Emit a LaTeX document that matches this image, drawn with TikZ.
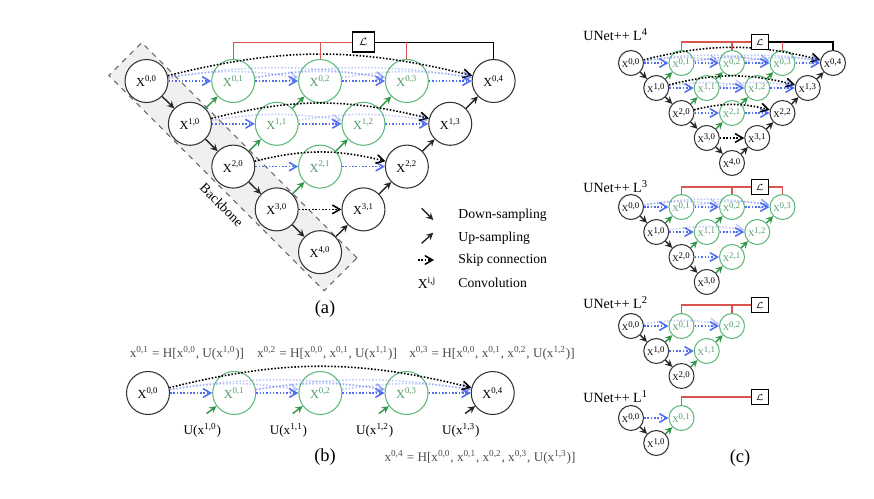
\documentclass[tikz,border=0pt]{standalone}
\usepackage{fontspec}
\setmainfont{Liberation Serif}
\usepackage{amsmath,amssymb}
\usepackage{xcolor}
\usepackage{tikz}
\usetikzlibrary{arrows, positioning}

\definecolor{netgreen}{HTML}{5DB97A}
\definecolor{upgreen}{HTML}{2E9646}
\definecolor{skipblue}{HTML}{4F6DF0}
\definecolor{lossred}{HTML}{D9534F}

\newcommand{\unetnet}[3]{%
  \foreach \i in {0,...,#2}
    \node[enc] (#1X\i0) at (\i,\i) {X\textsuperscript{\i,0}};
  \foreach \j in {1,...,#2} {
    \pgfmathtruncatemacro{\imax}{#2-\j}
    \foreach \i in {0,...,\imax} {
      \def\st{dec}
      \ifnum#3=1 \ifnum\i=\imax \def\st{orig}\fi\fi
      \node[\st] (#1X\i\j) at (\i+2*\j,\i) {X\textsuperscript{\i,\j}};
    }
  }
  \foreach \i [count=\h from 0] in {1,...,#2}
    \path (#1X\h0) edge[dsamp] (#1X\i0);
  \foreach \j [count=\jp from 0] in {1,...,#2} {
    \pgfmathtruncatemacro{\imax}{#2-\j}
    \foreach \i in {0,...,\imax} {
      \pgfmathtruncatemacro{\ip}{\i+1}
      \def\upst{usampg}\def\skst{skipb}
      \ifnum#3=1 \ifnum\i=\imax \def\upst{usampk}\ifnum\j=1 \def\skst{skipk}\fi\fi\fi
      \path (#1X\ip\jp) edge[\upst] (#1X\i\j);
      \path (#1X\i\jp) edge[\skst] (#1X\i\j);
      \ifnum\j>1
        \pgfmathtruncatemacro{\kmax}{\j-2}
        \foreach \k in {0,...,\kmax} {
          \def\arcst{arcb}
          \ifnum#3=1 \ifnum\i=\imax \ifnum\k=0 \def\arcst{arck}\fi\fi\fi
          \path (#1X\i\k) edge[\arcst] (#1X\i\j);
        }
      \fi
    }
  }%
}

\begin{document}
\begin{tikzpicture}[>= stealth, x=0.02cm, y=-0.02cm, semithick]
\tikzstyle{unit}=[circle, draw, semithick, fill=white, inner sep=0pt,
                  minimum size=0.86cm, font=\fontsize{7}{8}\selectfont]
\tikzstyle{enc}=[unit, draw=black!80]
\tikzstyle{orig}=[unit, draw=black!80]
\tikzstyle{dec}=[unit, draw=netgreen, text=netgreen!85!black]
\tikzstyle{loss}=[rectangle, draw, thick, fill=white, inner sep=0pt,
                  minimum width=0.44cm, minimum height=0.4cm, font=\fontsize{6}{7}\selectfont]
\tikzstyle{dsamp}=[->, draw=black!85, thick]
\tikzstyle{usampg}=[->, draw=upgreen, thick]
\tikzstyle{usampk}=[->, draw=black!85, thick]
\tikzstyle{skipb}=[-angle 60, draw=skipblue, densely dotted, line width=0.9pt]
\tikzstyle{skipk}=[-angle 60, draw=black, densely dotted, line width=0.9pt]
\tikzstyle{arcb}=[skipb, opacity=0.35, bend left=9]
\tikzstyle{arck}=[skipk, bend left=14]
\tikzstyle{sup}=[draw=lossred, semithick]
\tikzstyle{supk}=[draw=black, semithick]
\tikzstyle{cnet}=[unit/.style={circle, draw, semithick, fill=white, inner sep=0pt,
                  minimum size=0.5cm, font=\fontsize{5}{6}\selectfont},
                  loss/.append style={minimum width=0.34cm, minimum height=0.3cm,
                  font=\fontsize{5}{6}\selectfont}]
\tikzstyle{lab}=[font=\fontsize{7.8}{9}\selectfont]
\tikzstyle{form}=[font=\fontsize{7.5}{9}\selectfont, text=black!70]
\tikzstyle{ulab}=[font=\fontsize{7.5}{9}\selectfont]
\tikzstyle{capt}=[font=\fontsize{10.5}{12}\selectfont]
\tikzstyle{ttl}=[font=\fontsize{8}{10}\selectfont, anchor=west]
\useasboundingbox (0,0) rectangle (874,498);

  \node[draw=black!60, dashed, fill=black!6, rotate=-45, minimum width=6.09cm,
        minimum height=0.93cm] (bbone) at (233,166.7) {};
  \node[lab, rotate=-45] (bbtext) at (221.7,205) {Backbone};

  \begin{scope}[shift={(146.5,81)}, x=0.868cm, y=-0.856cm]
    \unetnet{a}{4}{1}
    \node[loss] (aL) at (5,-0.91) {$\mathcal{L}$};
    \draw[sup]  (aX01.north) |- (aL.west);
    \draw[sup]  (aX02.north) -- (aX02.north |- aL.west);
    \draw[supk] (aL.east) -| (aX04.north);
    \draw[sup]  (aX03.north) -- (aX03.north |- aL.east);
  \end{scope}

  \coordinate (ld1) at (421.7,208.3);
  \coordinate (ld2) at (433.3,220);
  \coordinate (lu1) at (421.7,243.3);
  \coordinate (lu2) at (433.3,232.7);
  \coordinate (ls1) at (418,260);
  \coordinate (ls2) at (434,260);
  \path (ld1) edge[dsamp] (ld2);
  \path (lu1) edge[usampk] (lu2);
  \path (ls1) edge[skipk] (ls2);
  \node[lab] (lx) at (427,283) {X\textsuperscript{i,j}};
  \node[lab, anchor=west] (ldown) at (452,215) {Down-sampling};
  \node[lab, anchor=west] (lup)   at (452,238) {Up-sampling};
  \node[lab, anchor=west] (lskip) at (452,260) {Skip connection};
  \node[lab, anchor=west] (lconv) at (452,283) {Convolution};
  \node[capt] (capa) at (325,309) {(a)};

  \node[form] (f01) at (187,353) {x\textsuperscript{0,1} = H[x\textsuperscript{0,0}, U(x\textsuperscript{1,0})]};
  \node[form] (f02) at (327,353) {x\textsuperscript{0,2} = H[x\textsuperscript{0,0}, x\textsuperscript{0,1}, U(x\textsuperscript{1,1})]};
  \node[form] (f03) at (492,353) {x\textsuperscript{0,3} = H[x\textsuperscript{0,0}, x\textsuperscript{0,1}, x\textsuperscript{0,2}, U(x\textsuperscript{1,2})]};
  \node[form] (f04) at (480,457) {x\textsuperscript{0,4} = H[x\textsuperscript{0,0}, x\textsuperscript{0,1}, x\textsuperscript{0,2}, x\textsuperscript{0,3}, U(x\textsuperscript{1,3})]};
  \begin{scope}[shift={(148,393)}, x=0.862cm, y=-0.856cm]
    \node[enc] (bX00) at (0,0) {X\textsuperscript{0,0}};
    \foreach \j in {1,2,3}
      \node[dec] (bX0\j) at (2*\j,0) {X\textsuperscript{0,\j}};
    \node[orig] (bX04) at (8,0) {X\textsuperscript{0,4}};
    \foreach \j [count=\h from 0] in {1,...,4}
      \path (bX0\h) edge[skipb] (bX0\j);
    \foreach \k/\j in {0/2,0/3,1/3,1/4,2/4}
      \path (bX0\k) edge[arcb] (bX0\j);
    \path (bX00) edge[arck] (bX04);
    \foreach \j [count=\h from 0] in {1,2,3} {
      \node[ulab] (bU\j) at (2*\j-0.74,0.87) {U(x\textsuperscript{1,\h})};
      \path (bU\j.north) edge[usampg, shorten <=3pt] (bX0\j);
    }
    \node[ulab] (bU4) at (7.26,0.87) {U(x\textsuperscript{1,3})};
    \path (bU4.north) edge[usampk, shorten <=3pt] (bX04);
  \end{scope}
  \node[capt] (capb) at (325,457) {(b)};

  \node[ttl] (t4) at (577,35) {UNet++ L\textsuperscript{4}};
  \begin{scope}[shift={(631,63)}, x=0.505cm, y=-0.5cm, cnet]
    \unetnet{c4}{4}{1}
    \node[loss] (c4L) at (5.1,-0.84) {$\mathcal{L}$};
    \draw[sup]  (c4X01.north) |- (c4L.west);
    \draw[sup]  (c4X02.north) -- (c4X02.north |- c4L.west);
    \draw[supk] (c4L.east) -| (c4X04.north);
    \draw[sup]  (c4X03.north) -- (c4X03.north |- c4L.east);
  \end{scope}

  \node[ttl] (t3) at (577,187) {UNet++ L\textsuperscript{3}};
  \begin{scope}[shift={(631,207)}, x=0.505cm, y=-0.5cm, cnet]
    \unetnet{c3}{3}{0}
    \node[loss] (c3L) at (5.1,-0.8) {$\mathcal{L}$};
    \draw[sup] (c3X01.north) |- (c3L.west);
    \draw[sup] (c3X02.north) -- (c3X02.north |- c3L.west);
    \draw[sup] (c3L.east) -| (c3X03.north);
  \end{scope}

  \node[ttl] (t2) at (577,303) {UNet++ L\textsuperscript{2}};
  \begin{scope}[shift={(631,326)}, x=0.505cm, y=-0.5cm, cnet]
    \unetnet{c2}{2}{0}
    \node[loss] (c2L) at (5.1,-0.84) {$\mathcal{L}$};
    \draw[sup] (c2X01.north) |- (c2L.west);
    \draw[sup] (c2X02.north) -- (c2X02.north |- c2L.west);
  \end{scope}

  \node[ttl] (t1) at (577,397) {UNet++ L\textsuperscript{1}};
  \begin{scope}[shift={(631,418)}, x=0.505cm, y=-0.5cm, cnet]
    \unetnet{c1}{1}{0}
    \node[loss] (c1L) at (5.1,-0.84) {$\mathcal{L}$};
    \draw[sup] (c1X01.north) |- (c1L.west);
  \end{scope}
  \node[capt] (capc) at (740,458) {(c)};
\end{tikzpicture}
\end{document}
